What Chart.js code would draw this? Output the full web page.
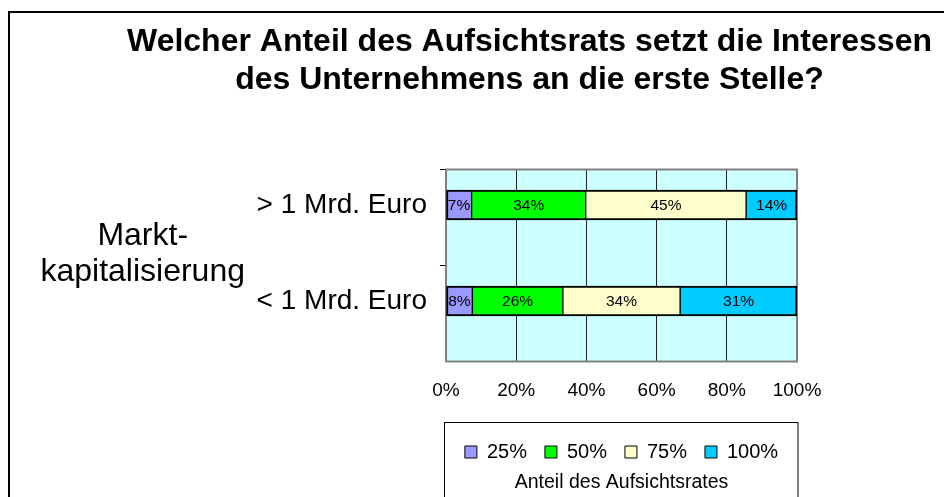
<!DOCTYPE html>
<html>
<head>
<meta charset="utf-8">
<script src="https://cdn.jsdelivr.net/npm/chart.js@4.4.1/dist/chart.umd.min.js"></script>
<style>
html, body { margin: 0; padding: 0; background: #fff; overflow: hidden; }
canvas { display: block; }
</style>
</head>
<body>
<canvas id="c" width="944" height="497"></canvas>
<script>
// ---- data ----
const categories = ['> 1 Mrd. Euro', '< 1 Mrd. Euro'];
const seriesNames = ['25%', '50%', '75%', '100%'];
// bar lengths (percent of the 100% stacked bar)
const values25 = [7.3, 7.5];
const values50 = [32.5, 25.8];
const values75 = [45.7, 33.4];
const values100 = [14.5, 33.3];
// printed data labels
const printed25 = [7, 8];
const printed50 = [34, 26];
const printed75 = [45, 34];
const printed100 = [14, 31];
const xTickValues = [0, 20, 40, 60, 80, 100];
const titleLines = ['Welcher Anteil des Aufsichtsrats setzt die Interessen', 'des Unternehmens an die erste Stelle?'];
const axisTitleLines = ['Markt-', 'kapitalisierung'];
const legendCaption = 'Anteil des Aufsichtsrates';

// ---- styles ----
const FF = '"Liberation Sans", Arial, sans-serif';
const colors = ['#9999FF', '#00FF00', '#FFFFCC', '#00CCFF'];
const seriesValues = [values25, values50, values75, values100];
const seriesPrinted = [printed25, printed50, printed75, printed100];
const Y_MIN = -0.37, Y_MAX = 1.63;

const decorPlugin = {
  id: 'decor',
  beforeDraw(chart) {
    const { ctx, chartArea: a } = chart;
    ctx.save();
    ctx.fillStyle = '#fff';
    ctx.fillRect(0, 0, chart.width, chart.height);
    ctx.strokeStyle = '#000';
    ctx.lineWidth = 2;
    ctx.strokeRect(9, 12, chart.width + 50, chart.height + 50);
    ctx.fillStyle = '#CCFFFF';
    ctx.fillRect(a.left, a.top, a.right - a.left, a.bottom - a.top);
    ctx.restore();
  },
  beforeDatasetsDraw(chart) {
    const { ctx, chartArea: a } = chart;
    ctx.save();
    ctx.strokeStyle = '#808080';
    ctx.lineWidth = 2;
    ctx.strokeRect(a.left, a.top, a.right - a.left, a.bottom - a.top);
    ctx.restore();
  },
  afterDatasetsDraw(chart) {
    const ctx = chart.ctx;
    ctx.save();
    ctx.font = '15.5px ' + FF;
    ctx.fillStyle = '#000';
    ctx.textAlign = 'center';
    ctx.textBaseline = 'middle';
    chart.data.datasets.forEach((ds, d) => {
      const meta = chart.getDatasetMeta(d);
      meta.data.forEach((el, i) => {
        const p = el.getProps(['x', 'y', 'base'], true);
        ctx.fillText(seriesPrinted[d][i] + '%', (p.x + p.base) / 2, p.y + 0.5);
      });
    });
    ctx.restore();
  },
  afterDraw(chart) {
    const { ctx, chartArea: a } = chart;
    const lg = chart.legend;
    ctx.save();
    ctx.strokeStyle = '#000';
    ctx.lineWidth = 1;
    ctx.strokeRect(a.left - 1.5, lg.top - 1.5, a.right - a.left + 2.5, 200);
    ctx.restore();
  }
};

new Chart(document.getElementById('c'), {
  type: 'bar',
  data: {
    datasets: seriesValues.map((vals, d) => ({
      label: seriesNames[d],
      data: vals.map((v, i) => ({ x: v, y: i })),
      backgroundColor: colors[d],
      borderColor: '#000',
      borderWidth: { top: 2, bottom: 2, left: d === 0 ? 2 : 1, right: d === seriesValues.length - 1 ? 2 : 1 },
      borderSkipped: false,
      barThickness: 30,
      xAxisID: 'x',
      yAxisID: 'y'
    }))
  },
  options: {
    indexAxis: 'y',
    responsive: false,
    animation: false,
    devicePixelRatio: 1,
    events: [],
    layout: { padding: { left: 35, right: -80, top: 0, bottom: 0 } },
    scales: {
      x: {
        type: 'linear', position: 'bottom', stacked: true, min: 0, max: 100,
        afterBuildTicks: s => { s.ticks = xTickValues.map(v => ({ value: v })); },
        ticks: { callback: v => v + '%', font: { size: 19, family: FF }, color: '#000', padding: 17.5, maxRotation: 0, autoSkip: false },
        grid: { color: '#222', lineWidth: 1, drawTicks: false },
        border: { display: false },
        afterFit: s => { s.height = 62.5; }
      },
      y: {
        type: 'linear', position: 'left', stacked: true, reverse: true, min: Y_MIN, max: Y_MAX, weight: 1, offset: false,
        afterBuildTicks: s => { s.ticks = categories.map((c, i) => ({ value: i })); },
        ticks: { callback: (v, i) => categories[i], font: { size: 28, family: FF }, color: '#000', padding: 13, autoSkip: false },
        grid: { display: false, drawTicks: false, offset: false },
        border: { display: false },
        afterFit: s => { s.width = 190; }
      },
      yTicks: {
        type: 'linear', position: 'left', reverse: true, min: Y_MIN, max: Y_MAX, weight: 0, offset: false,
        afterBuildTicks: s => { s.ticks = [{ value: Y_MIN }, { value: Y_MIN + 1 }]; },
        ticks: { display: false },
        grid: { display: true, offset: false, drawOnChartArea: false, drawTicks: true, tickLength: 6, color: '#000', lineWidth: 1 },
        border: { display: false },
        afterFit: s => { s.width = 6; }
      },
      yTitle: {
        type: 'linear', position: 'left', reverse: true, min: 0, max: 1, weight: 2, offset: false,
        afterBuildTicks: s => { s.ticks = [{ value: 0.44 }]; },
        ticks: { callback: () => axisTitleLines, font: { size: 32, family: FF, lineHeight: 1.125 }, color: '#000', padding: 5, crossAlign: 'center', autoSkip: false },
        grid: { display: false, drawTicks: false, offset: false },
        border: { display: false },
        afterFit: s => { s.width = 215; }
      },
      yR: {
        type: 'linear', position: 'right', offset: false,
        ticks: { display: false },
        grid: { display: false, drawTicks: false, offset: false },
        border: { display: false },
        afterFit: s => { s.width = 227; }
      }
    },
    plugins: {
      title: {
        display: true, text: titleLines, color: '#000',
        font: { size: 32, weight: 'bold', family: FF, lineHeight: 1.1875 },
        padding: { top: 23, bottom: 70.5 }
      },
      subtitle: {
        display: true, position: 'bottom', fullSize: false, text: legendCaption, color: '#000',
        font: { size: 19.5, family: FF, lineHeight: 1.2 },
        padding: { top: 1, bottom: 2.3 }
      },
      legend: {
        display: true, position: 'bottom', fullSize: false, align: 'center', maxHeight: 46.3,
        labels: {
          boxWidth: 12, boxHeight: 12, padding: 18, color: '#000',
          font: { size: 20, family: FF },
          generateLabels: chart => Chart.defaults.plugins.legend.labels.generateLabels(chart).map(it => Object.assign(it, { lineWidth: 1, strokeStyle: '#000' }))
        }
      },
      tooltip: { enabled: false }
    }
  },
  plugins: [decorPlugin]
});
</script>
</body>
</html>
